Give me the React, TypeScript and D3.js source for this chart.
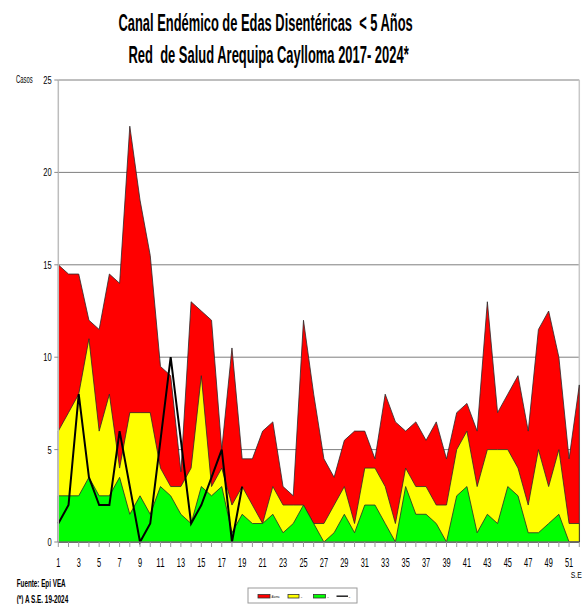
import React from "react";
import * as d3 from "d3";

const weeks = [1,2,3,4,5,6,7,8,9,10,11,12,13,14,15,16,17,18,19,20,21,22,23,24,25,26,27,28,29,30,31,32,33,34,35,36,37,38,39,40,41,42,43,44,45,46,47,48,49,50,51,52];

const alarma = [15,14.5,14.5,12,11.5,14.5,14,22.5,18.5,15.5,9.5,9,3.8,13,12.5,12,5,10.5,4.5,4.5,6,6.5,3,2.5,12,8,4.5,3.5,5.5,6,6,4.5,8,6.5,6,6.5,5.5,6.5,4.5,7,7.5,6,13,7,8,9,6,11.5,12.5,10,4.5,8.5];

const seguridad = [6,7,8,11,6,8,4,7,7,7,4,3,3,4,9,3,4,2,3,2,1,3,2,2,2,1,1,2,3,1,4,4,3,1,4,3,3,2,2,5,6,3,5,5,5,4,2,5,3,5,1,1];

const exito = [2.5,2.5,2.5,3.5,2.5,2.5,3.5,1.5,2.5,1.5,3,2.5,1.5,1,3,2.5,3,0.5,1.5,1,1,1.5,0.5,1,2,1,0,0.5,1.5,0.5,2,2,1,0,3,1.5,1.5,1,0,2.5,3,0.5,1.5,1,3,2.5,0.5,0.5,1,1.5,0,0];

const casos2024 = [1,2,8,3.5,2,2,6,3,0,1,5.5,10,5.5,1,2,3.5,5,0,3];

const xTickLabels = [1,3,5,7,9,11,13,15,17,19,21,23,25,27,29,31,33,35,37,39,41,43,45,47,49,51];
const yTickValues = [0,5,10,15,20,25];

const FONT = "'Liberation Sans', Arial, sans-serif";

let ctx: CanvasRenderingContext2D | null = null;
function measure(s: string, size: number, bold: boolean) {
  if (!ctx) ctx = document.createElement("canvas").getContext("2d");
  if (!ctx) return s.length * size * 0.55;
  ctx.font = `${bold ? "bold " : ""}${size}px ${FONT}`;
  return ctx.measureText(s).width || s.length * size * 0.55;
}

function T({ x, y, len, size, bold, anchor, children, fill }: any) {
  const s = String(children);
  const w = measure(s, size, !!bold);
  const sx = len ? len / w : 1;
  return (
    <text
      transform={`translate(${x},${y}) scale(${sx},1)`}
      x={0}
      y={0}
      fontSize={size}
      fontWeight={bold ? "bold" : "normal"}
      textAnchor={anchor || "start"}
      fill={fill || "#000"}
      fontFamily={FONT}
      style={{ whiteSpace: "pre" }}
    >
      {s}
    </text>
  );
}

export default function App() {
  const x = d3.scaleLinear().domain([1, 52]).range([58.3, 579.3]);
  const y = d3.scaleLinear().domain([0, 25]).range([542, 80]);

  const mk = (vals: number[]) =>
    d3
      .area<number>()
      .x((_, i) => x(weeks[i]))
      .y0(y(0))
      .y1((d) => y(d))(vals) || "";

  const line = d3
    .line<number>()
    .x((_, i) => x(weeks[i]))
    .y((d) => y(d))(casos2024) || "";

  return (
    <svg
      width={584}
      height={604}
      style={{ position: "absolute", left: 0, top: 0, background: "#fff" }}
    >
      <rect x={0} y={0} width={584} height={604} fill="#fff" />
      <T x={118.5} y={31} size={24} bold len={295}>
        {"Canal Endémico de Edas Disentéricas  < 5 Años"}
      </T>
      <T x={128.5} y={63} size={24} bold len={281}>
        {"Red  de Salud Arequipa Caylloma 2017- 2024*"}
      </T>

      {/* grid */}
      {yTickValues.filter((v) => v > 0).map((v) => (
        <line key={v} x1={x(1)} x2={x(52)} y1={y(v)} y2={y(v)} stroke="#7f7f7f" strokeWidth={1} />
      ))}
      <line x1={x(52)} x2={x(52)} y1={y(25)} y2={y(0)} stroke="#c8c8c8" strokeWidth={1.5} />

      {/* areas */}
      <path d={mk(alarma)} fill="#ff0000" stroke="#2a2a2a" strokeWidth={0.8} />
      <path d={mk(seguridad)} fill="#ffff00" stroke="#2a2a2a" strokeWidth={0.8} />
      <path d={mk(exito)} fill="#00ff00" stroke="#2a2a2a" strokeWidth={0.8} />
      <path d={line} fill="none" stroke="#000" strokeWidth={2} strokeLinejoin="miter" />

      {/* axes */}
      <line x1={x(1)} x2={x(1)} y1={y(25)} y2={y(0)} stroke="#bdbdbd" strokeWidth={1.5} />
      <line x1={x(1)} x2={x(52)} y1={y(0)} y2={y(0)} stroke="#8a8a8a" strokeWidth={1} />
      {yTickValues.map((v) => (
        <g key={v}>
          <line x1={x(1) - 4} x2={x(1)} y1={y(v)} y2={y(v)} stroke="#8a8a8a" />
          <T x={51.7} y={y(v) + 4} size={11} anchor="end" len={String(v).length * 4.2}>
            {String(v)}
          </T>
        </g>
      ))}
      {weeks.map((w) => (
        <line key={w} x1={x(w)} x2={x(w)} y1={y(0)} y2={y(0) + 5} stroke="#9a9a9a" />
      ))}
      {xTickLabels.map((w) => (
        <T key={w} x={x(w)} y={567} size={12.5} anchor="middle" len={String(w).length * 4.1}>
          {String(w)}
        </T>
      ))}
      <T x={16} y={82.5} size={10} len={16.7}>Casos</T>
      <T x={570.7} y={578.3} size={9} len={11}>S.E</T>

      <T x={16.7} y={586.5} size={10} bold len={49}>Fuente: Epi VEA</T>
      <T x={16.7} y={602.5} size={10} bold len={52}>(*) A S.E. 19-2024</T>

      {/* legend */}
      <rect x={248} y={588} width={109} height={15} fill="#fff" stroke="#9a9a9a" strokeWidth={1} />
      <rect x={258} y={594.5} width={12} height={3.5} fill="#ff0000" stroke="#333" strokeWidth={0.8} />
      <T x={271.5} y={597.8} size={3.5} len={8}>Alarma</T>
      <rect x={288} y={594.5} width={11} height={3.5} fill="#ffff00" stroke="#333" strokeWidth={0.8} />
      <T x={300.5} y={597.5} size={4} len={2}>-</T>
      <rect x={313.5} y={594.5} width={12} height={3.5} fill="#00ff00" stroke="#333" strokeWidth={0.8} />
      <T x={327} y={597.5} size={4} len={2}>-</T>
      <line x1={336.5} x2={348} y1={596.2} y2={596.2} stroke="#222" strokeWidth={1.5} />
      <T x={348.5} y={597.5} size={4} len={2}>-</T>
    </svg>
  );
}
